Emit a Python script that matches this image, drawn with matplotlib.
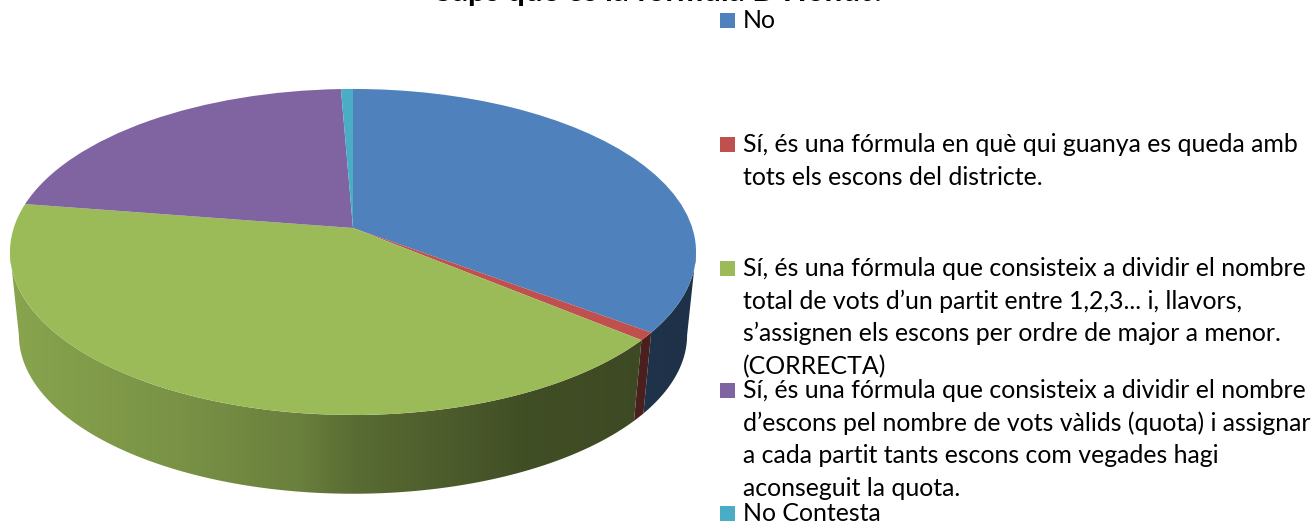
import matplotlib
matplotlib.use("Agg")
import matplotlib.pyplot as plt
from matplotlib.patches import Polygon, Rectangle
from matplotlib.transforms import Transform
import numpy as np

title = "Saps què és la fórmula D'Hondt?"
values = [35.2, 0.8, 41.45, 21.9, 0.65]
colors = ["#4F81BD", "#C0504D", "#9BBB59", "#8064A2", "#4BACC6"]
legend_lines = [
    ["No"],
    ["Sí, és una fórmula en què qui guanya es queda amb",
     "tots els escons del districte."],
    ["Sí, és una fórmula que consisteix a dividir el nombre",
     "total de vots d’un partit entre 1,2,3... i, llavors,",
     "s’assignen els escons per ordre de major a menor.",
     "(CORRECTA)"],
    ["Sí, és una fórmula que consisteix a dividir el nombre",
     "d’escons pel nombre de vots vàlids (quota) i assignar",
     "a cada partit tants escons com vegades hagi",
     "aconseguit la quota."],
    ["No Contesta"],
]
legend_base = [28, 152, 276, 398, 521]

W, H = 1315, 523
LINE_GAP = 32.7
FONT = 17.9

# perspective of the pie top, in pixels
CX, CY = 353, 228
PA, PB, PK = 339.3, 159.5, 0.147
# centre of the top rim ellipse and of the bottom rim
TOP_MID = 252
BOT_MID = 335
BOT_SCALE = 0.974
# rim angles where the wall starts and stops being visible
FRONT = np.radians([98.5, 261.5])


def project(u, v):
    """unit circle coordinates to picture pixels"""
    w = 1 + PK * v
    return CX + PA * u / w, CY - PB * v / w


class Tilt(Transform):
    input_dims = 2
    output_dims = 2
    is_separable = False
    has_inverse = False

    def transform_non_affine(self, values):
        x, y = project(values[:, 0], values[:, 1])
        return np.column_stack([x, y])


def shade(x):
    """darkening of the side wall, x goes from -1 (left) to 1 (right)"""
    return np.interp(x, [-1, -0.5, -0.15, 0, 0.5, 1], [0.88, 0.78, 0.68, 0.58, 0.42, 0.38])


def main():
    plt.rcParams["font.family"] = ["Lato", "DejaVu Sans"]
    fig = plt.figure(figsize=(W / 100, H / 100), dpi=100)
    ax = fig.add_axes([0, 0, 1, 1])

    # side wall of each slice: gradient image clipped to the wall outline
    edges = np.cumsum([0] + values) / sum(values) * 2 * np.pi
    xs = np.arange(W) + 0.5
    ramp = shade((xs - CX) / 343)
    for i, c in enumerate(colors):
        a0, a1 = max(edges[i], FRONT[0]), min(edges[i + 1], FRONT[1])
        if a1 <= a0:
            continue
        ang = np.linspace(a0, a1, 200)
        px, py = project(np.sin(ang), np.cos(ang))
        bx = CX + (px - CX) * BOT_SCALE
        by = BOT_MID + (py - TOP_MID) * BOT_SCALE
        outline = np.column_stack([np.r_[px, bx[::-1]], np.r_[py, by[::-1]]])
        wall = Polygon(outline, closed=True, transform=ax.transData, facecolor="none",
                       edgecolor="none")
        ax.add_patch(wall)
        grad = ramp[None, :, None] * np.array(matplotlib.colors.to_rgb(c))[None, None, :]
        img = ax.imshow(grad, extent=(0, W, H, 0), aspect="auto", zorder=0.5,
                        interpolation="bilinear")
        img.set_clip_path(wall)

    wedges, _ = ax.pie(values, colors=colors, startangle=90, counterclock=False, radius=1)
    for wedge in wedges:
        wedge.set_transform(Tilt() + ax.transData)

    ax.set_aspect("auto")
    ax.set_xlim(0, W)
    ax.set_ylim(H, 0)
    ax.axis("off")

    ax.text(661, 1, title, fontsize=22.5, fontweight="bold", ha="center", va="baseline",
            color="black", clip_on=False)

    for lines, y, c in zip(legend_lines, legend_base, colors):
        ax.add_patch(Rectangle((720, y - 15), 15, 15, facecolor=c, edgecolor="none"))
        for n, line in enumerate(lines):
            ax.text(743, y + n * LINE_GAP, line, fontsize=FONT, ha="left", va="baseline",
                    color="black")

    fig.savefig("out.png", dpi=100)


if __name__ == "__main__":
    main()
